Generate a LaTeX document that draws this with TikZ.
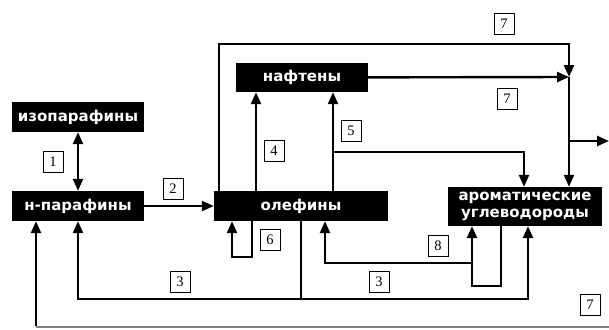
\documentclass[tikz,border=0pt]{standalone}
\usepackage{fontspec}
\setmainfont{Liberation Serif}
\newfontfamily\boxfont{DejaVu Sans}
\usetikzlibrary{arrows.meta,positioning}

\begin{document}
\begin{tikzpicture}[
    x=1pt, y=-1pt,
    substance/.style={fill=black, text=white, inner sep=0pt, font=\boxfont\bfseries\fontsize{15}{16.5}\selectfont, align=center},
    num/.style={draw, line width=0.6pt, fill=white, minimum width=20pt, minimum height=21pt, inner sep=0pt, font=\fontsize{14.5}{14.5}\selectfont},
    arr/.style={-{Triangle[length=12pt,width=10pt]}, line width=2.4pt},
    darr/.style={{Triangle[length=12pt,width=10pt]}-{Triangle[length=12pt,width=10pt]}, line width=2.4pt},
    faint/.style={line width=2pt, gray},
]
\useasboundingbox (0,0) rectangle (609,329);

% Substances
\node[substance, minimum width=132pt, minimum height=30pt] (iso) at (78,117) {изопарафины};
\node[substance, minimum width=132pt, minimum height=30pt] (npar) at (78,206) {н-парафины};
\node[substance, minimum width=174pt, minimum height=30pt] (olef) at (301,206) {олефины};
\node[substance, minimum width=132pt, minimum height=29pt] (naft) at (302,77.5) {нафтены};
\node[substance, minimum width=154pt, minimum height=39pt] (arom) at (525,206.5) {ароматические\\углеводороды};

% Junctions and free ends
\coordinate (jn) at (569,77);
\coordinate (out) at (609,141);
\coordinate (b5) at (333,152);
\coordinate (b3) at (301,299);
\coordinate (b8) at (472,263);
\coordinate (ext) at (609,327);
\coordinate (corner) at (36,327);

% 1, 2
\draw[darr] (iso) -- (npar);
\draw[arr] (npar) -- (olef);

% 7: to the outlet
\draw[arr] ([xshift=5pt]olef.north west) -- ([xshift=5pt]olef.north west |- 0,44) -| (jn);
\draw[arr] (naft) -- (jn);
\draw[arr] (jn) -- (jn |- arom.north);
\draw[arr] (jn |- out) -- (out);

% 4, 5
\draw[arr] (olef.north -| 256,0) -- (naft.south -| 256,0);
\draw[arr] (olef.north -| 333,0) -- (naft.south -| 333,0);
\draw[arr] (b5) -| (arom.north -| 524,0);

% 6
\draw[arr] (olef.south -| 252,0) -- (252,257) -- (232,257) -- (olef.south -| 232,0);

% 3
\draw[arr] (olef.south) -- (b3) -| (npar.south);
\draw[arr] (b3) -| (arom.south -| 528,0);

% 8
\draw[arr] (arom.south -| 501,0) |- (472,286) -- (arom.south -| 472,0);
\draw[arr] (b8) -| (olef.south -| 325,0);

% 7: back to n-paraffins
\draw[faint] (ext) -- (corner);
\draw[arr] ([yshift=1pt]corner) -- (npar.south -| corner);

% Numbers
\node[num] (n1) at (53,162) {1};
\node[num] (n2) at (173,189) {2};
\node[num] (n7a) at (504,24) {7};
\node[num] (n7b) at (507,99) {7};
\node[num] (n4) at (274,151) {4};
\node[num] (n5) at (351,131) {5};
\node[num] (n6) at (270,240) {6};
\node[num] (n3a) at (180,282) {3};
\node[num] (n3b) at (379,282) {3};
\node[num] (n8) at (438,246) {8};
\node[num] (n7c) at (590,305) {7};
\end{tikzpicture}
\end{document}
